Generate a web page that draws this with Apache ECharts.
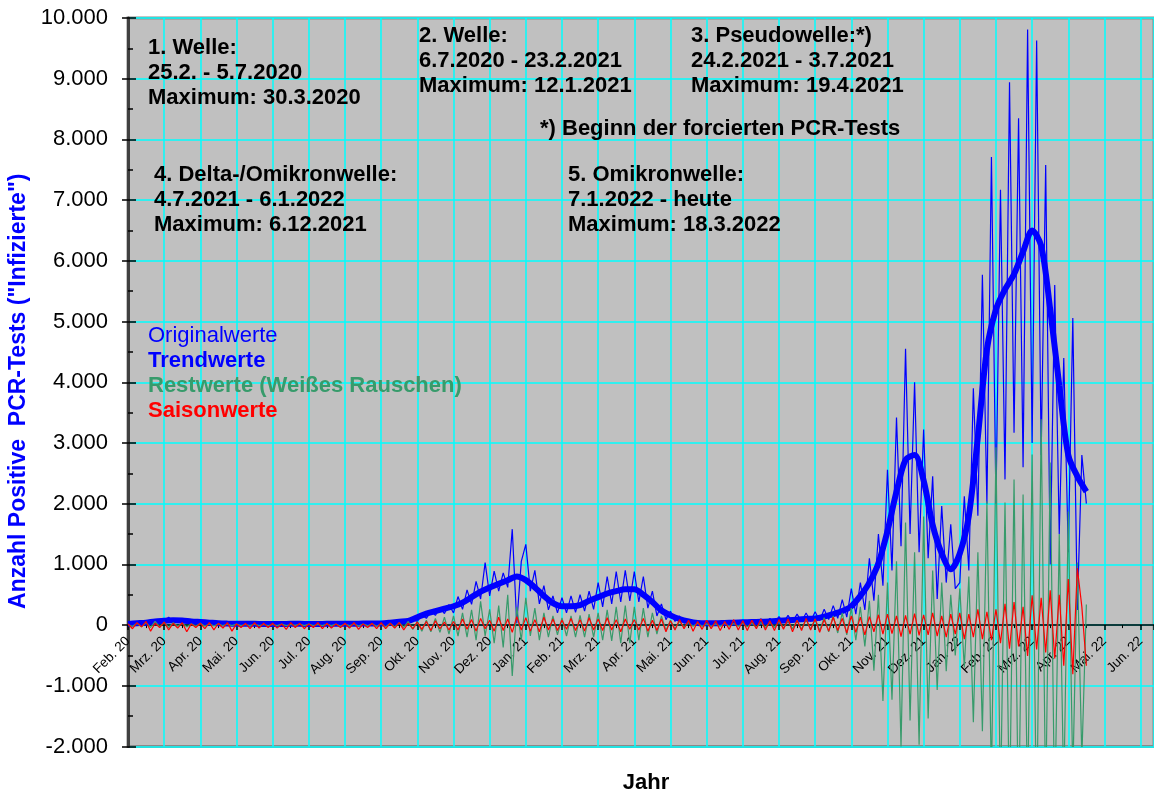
<!DOCTYPE html>
<html lang="de">
  <head>
    <meta charset="UTF-8" />
    <title>Positive PCR-Tests</title>
    <style>
      html, body { margin: 0; padding: 0; background: #fff; }
      #main { width: 1154px; height: 796px; }
    </style>
  </head>
  <body>
    <div id="main"></div>
    <script src="https://cdn.jsdelivr.net/npm/echarts@6/dist/echarts.min.js"></script>
    <script>
      // Monatsbeschriftung der x-Achse (1 Einheit = 1 Monat ab Feb. 2020)
      const monthLabels = [
        "Feb. 20", "Mrz. 20", "Apr. 20", "Mai. 20", "Jun. 20", "Jul. 20", "Aug. 20",
        "Sep. 20", "Okt. 20", "Nov. 20", "Dez. 20", "Jan. 21", "Feb. 21", "Mrz. 21",
        "Apr. 21", "Mai. 21", "Jun. 21", "Jul. 21", "Aug. 21", "Sep. 21", "Okt. 21",
        "Nov. 21", "Dez. 21", "Jan. 22", "Feb. 22", "Mrz. 22", "Apr. 22", "Mai. 22",
        "Jun. 22"
      ];

      // Trendwerte, alle 0,25 Monate
      const trendStep = 0.25;
      const trendValues = [
        20, 30, 40, 60, 70, 80, 75, 60, 50, 40, 30, 25,
        22, 20, 20, 18, 18, 18, 20, 20, 18, 18, 20, 20, 22, 22, 25, 25, 28,
        40, 55, 70, 130, 190, 230, 270, 310, 370, 460, 550, 620, 680, 740, 800,
        740, 620, 480, 360, 310, 310, 330, 400, 460, 520, 560, 590, 590, 500,
        380, 240, 160, 100, 60, 35, 30, 30, 35, 40, 45, 50, 55, 60, 70, 80,
        90, 100, 110, 140, 180, 230, 310, 480, 700, 1020, 1550, 2200, 2720, 2800,
        2380, 1650, 1180, 920, 1180, 1800, 3100, 4540, 5200, 5530, 5780, 6150,
        6500, 6250, 5200, 3950, 2800, 2450, 2200
      ];

      // Original-, Rest- und Saisonwerte, alle 0,125 Monate (8 Werte je Monat)
      const rawStep = 0.125;
      const originalValues = [
        10, 40, 20, 50, 30, 60, 40, 80,
        60, 130, 50, 110, 60, 90, 50, 80,
        30, 70, 20, 50, 20, 40, 15, 35,
        10, 30, 10, 25, 10, 30, 10, 25,
        10, 25, 10, 30, 10, 25, 15, 30,
        10, 30, 10, 25, 15, 30, 10, 30,
        10, 30, 15, 35, 10, 30, 15, 35,
        15, 40, 20, 50, 30, 60, 40, 90,
        60, 170, 110, 230, 160, 290, 190, 340,
        200, 470, 260, 580, 340, 720, 430, 1030,
        480, 890, 560, 860, 620, 1580, 30, 1050,
        1330, 560, 900, 350, 650, 250, 480, 200,
        450, 200, 480, 210, 500, 230, 560, 260,
        700, 300, 800, 350, 880, 380, 900, 400,
        880, 380, 800, 280, 560, 150, 350, 90,
        230, 60, 150, 30, 80, 20, 60, 15,
        50, 15, 45, 20, 55, 20, 60, 25,
        80, 25, 90, 30, 100, 35, 110, 40,
        140, 40, 160, 50, 180, 60, 200, 60,
        220, 70, 260, 90, 320, 110, 420, 130,
        600, 180, 700, 250, 1100, 400, 1500, 650,
        2560, 900, 3420, 1300, 4550, 1500, 4000, 1200,
        3220, 1100, 2450, 430, 1960, 700, 1660, 600,
        700, 2120, 900, 3900, 1800, 5770, 2000, 7710,
        2000, 7170, 2400, 8940, 3170, 8350, 2600, 9810,
        3000, 9630, 2800, 7580, 1000, 5600, 1500, 4400,
        1200, 5060, 250, 2800, 2000
      ];
      const residualValues = [
        10, -20, 30, -30, 40, -40, 60, -30,
        50, -40, 40, -20, 30, -30, 20, -20,
        30, -20, 20, -15, 20, -10, 15, -10,
        15, -10, 10, -10, 15, -10, 10, -10,
        10, -10, 15, -10, 10, -5, 15, -10,
        15, -10, 10, -10, 15, -10, 15, -15,
        15, -10, 20, -15, 15, -10, 20, -20,
        20, -30, 30, -30, 40, -40, 60, -70,
        60, -100, 80, -110, 110, -120, 130, -150,
        150, -180, 200, -200, 250, -250, 390, -180,
        260, -300, 320, -370, 500, -840, 300, -250,
        450, -180, 280, -250, 200, -200, 150, -160,
        120, -180, 150, -200, 160, -200, 180, -200,
        200, -250, 250, -260, 300, -300, 320, -300,
        300, -250, 280, -200, 200, -150, 150, -90,
        80, -60, 60, -30, 40, -20, 30, -20,
        20, -20, 20, -20, 25, -20, 25, -20,
        30, -30, 35, -35, 40, -40, 45, -40,
        60, -50, 70, -60, 80, -70, 90, -70,
        100, -90, 120, -110, 150, -130, 200, -160,
        280, -250, 300, -350, 400, -750, 500, -1250,
        700, -1230, 1050, -2000, 1690, -1570, 1200, -1970,
        1790, -1540, 900, -1070, 700, -760, 500, -500,
        600, -700, 800, -1600, 1200, -1750, 2040, -2600,
        2930, -3000, 2020, -3200, 2400, -3400, 2150, -3000,
        2810, -3500, 3390, -3000, 2680, -3200, 1500, -2800,
        1870, -2500, 1030, -2200, 340
      ];
      const seasonalValues = [
        20, -60, 40, -30, 60, -100, 30, -40,
        50, -80, 30, -50, 40, -110, 20, -40,
        30, -60, 40, -80, 30, -50, 40, -100,
        20, -40, 30, -60, 40, -50, 30, -40,
        30, -50, 20, -70, 40, -40, 30, -60,
        20, -40, 40, -60, 30, -50, 20, -40,
        30, -50, 40, -70, 20, -40, 30, -60,
        40, -60, 30, -50, 40, -80, 30, -60,
        50, -70, 60, -90, 70, -60, 50, -80,
        60, -80, 100, -70, 90, -100, 110, -60,
        80, -100, 130, -90, 100, -120, 140, -80,
        120, -100, 90, -110, 130, -80, 100, -90,
        80, -70, 110, -90, 90, -100, 120, -80,
        100, -90, 120, -80, 90, -110, 100, -70,
        90, -80, 110, -100, 80, -90, 100, -110,
        70, -80, 90, -60, 80, -100, 60, -70,
        80, -60, 70, -90, 60, -70, 90, -80,
        70, -90, 80, -60, 100, -80, 70, -90,
        90, -70, 100, -110, 80, -90, 110, -80,
        100, -120, 90, -100, 130, -90, 110, -130,
        150, -120, 130, -160, 140, -110, 170, -150,
        180, -140, 150, -190, 160, -150, 190, -170,
        170, -160, 200, -180, 150, -200, 180, -150,
        200, -230, 180, -200, 260, -230, 220, -250,
        260, -300, 350, -390, 380, -350, 300, -510,
        490, -400, 450, -450, 575, -550, 500, -670,
        760, -810, 940, 300, -670
      ];

      const FONT = '"Liberation Sans", Arial, sans-serif';
      const GREEN = "#379b6b";
      const Y_MIN = -2000;
      const Y_MAX = 10000;
      const GRID = { left: 128, right: 0, top: 18, bottom: 49.5 };
      // x-Achse liegt auf der Nulllinie: Abstand von der Unterkante des Plots
      const plotHeight = 796 - GRID.top - GRID.bottom;
      const zeroOffset = -plotHeight * (0 - Y_MIN) / (Y_MAX - Y_MIN);

      function toPoints(values, step) {
        return values.map((v, i) => [i * step, v]);
      }
      // 10000 -> "10.000"
      function fmtNumber(v) {
        const s = String(Math.abs(v)).replace(/\B(?=(\d{3})+(?!\d))/g, ".");
        return (v < 0 ? "-" : "") + s;
      }
      function note(x, y, text) {
        return {
          type: "text",
          x: x,
          y: y,
          z: 100,
          style: {
            text: text,
            font: "bold 22px " + FONT,
            fill: "#000",
            lineHeight: 25,
            verticalAlign: "top"
          }
        };
      }

      const myChart = echarts.init(document.getElementById("main"));
      const option = {
        animation: false,
        backgroundColor: "#fff",
        grid: Object.assign({}, GRID, {
          outerBoundsMode: "none",
          containLabel: false,
          show: true,
          backgroundColor: "#c0c0c0",
          borderColor: "#8a8a8a",
          borderWidth: 3
        }),
        legend: {
          orient: "vertical",
          left: 143,
          top: 324,
          padding: 0,
          itemGap: 1,
          itemWidth: 0,
          itemHeight: 0,
          icon: "rect",
          itemStyle: { opacity: 0 },
          lineStyle: { opacity: 0 },
          textStyle: { fontFamily: FONT, fontSize: 22, lineHeight: 24 },
          data: [
            { name: "Originalwerte", textStyle: { color: "#0000ff", fontWeight: "normal" } },
            { name: "Trendwerte", textStyle: { color: "#0000ff", fontWeight: "bold" } },
            { name: "Restwerte (Weißes Rauschen)", textStyle: { color: GREEN, fontWeight: "bold" } },
            { name: "Saisonwerte", textStyle: { color: "#ff0000", fontWeight: "bold" } }
          ]
        },
        xAxis: {
          type: "value",
          min: 0,
          max: 28.37,
          interval: 1,
          offset: zeroOffset,
          axisLine: { onZero: false, lineStyle: { color: "#000", width: 1.5 } },
          axisTick: { length: 5, lineStyle: { color: "#000", width: 1.5 } },
          minorTick: { show: true, splitNumber: 2, length: 3, lineStyle: { color: "#000" } },
          splitLine: { show: true, lineStyle: { color: "#00ffff", width: 1.5 } },
          axisLabel: {
            rotate: 45,
            margin: 14,
            showMaxLabel: false,
            color: "#000",
            fontFamily: FONT,
            fontSize: 13.5,
            formatter: (v) => monthLabels[Math.round(v)] || ""
          }
        },
        yAxis: [
          {
            type: "value",
            min: Y_MIN,
            max: Y_MAX,
            interval: 1000,
            name: 'Anzahl Positive  PCR-Tests ("Infizierte")',
            nameLocation: "middle",
            nameGap: 96,
            nameTextStyle: {
              color: "#0000ff",
              fontFamily: FONT,
              fontSize: 23,
              fontWeight: "bold",
              padding: [0, 18, 0, 0]
            },
            axisLine: { show: true, onZero: false, lineStyle: { color: "#404040", width: 3 } },
            axisTick: { show: true, length: 6, lineStyle: { color: "#000", width: 1.5 } },
            splitLine: { show: true, lineStyle: { color: "#00ffff", width: 1.5 } },
            axisLabel: {
              margin: 20,
              color: "#000",
              fontFamily: FONT,
              fontSize: 22,
              formatter: fmtNumber
            }
          },
          {
            // nur innere Teilstriche
            type: "value",
            position: "left",
            min: Y_MIN,
            max: Y_MAX,
            interval: 1000,
            axisLine: { show: false, onZero: false },
            axisLabel: { show: false },
            splitLine: { show: false },
            axisTick: { show: true, inside: true, length: 8, lineStyle: { color: "#000", width: 1.5 } },
            minorTick: { show: true, splitNumber: 2, length: 5, lineStyle: { color: "#000", width: 1.5 } }
          }
        ],
        graphic: [
          note(148, 35, "1. Welle:\n25.2. - 5.7.2020\nMaximum: 30.3.2020"),
          note(419, 23.5, "2. Welle:\n6.7.2020 - 23.2.2021\nMaximum: 12.1.2021"),
          note(691, 23.5, "3. Pseudowelle:*)\n24.2.2021 - 3.7.2021\nMaximum: 19.4.2021"),
          note(540, 116, "*) Beginn der forcierten PCR-Tests"),
          note(154, 162, "4. Delta-/Omikronwelle:\n4.7.2021 - 6.1.2022\nMaximum: 6.12.2021"),
          note(568, 162, "5. Omikronwelle:\n7.1.2022 - heute\nMaximum: 18.3.2022"),
          {
            type: "text",
            x: 646,
            y: 783,
            style: {
              text: "Jahr",
              font: "bold 22px " + FONT,
              fill: "#000",
              align: "center",
              verticalAlign: "middle"
            }
          }
        ],
        series: [
          {
            name: "Originalwerte",
            type: "line",
            symbol: "none",
            data: toPoints(originalValues, rawStep),
            lineStyle: { color: "#0000ff", width: 1.2 },
            itemStyle: { color: "#0000ff" }
          },
          {
            name: "Trendwerte",
            type: "line",
            symbol: "none",
            smooth: 0.3,
            data: toPoints(trendValues, trendStep),
            lineStyle: { color: "#0000ff", width: 6 },
            itemStyle: { color: "#0000ff" }
          },
          {
            name: "Restwerte (Weißes Rauschen)",
            type: "line",
            symbol: "none",
            data: toPoints(residualValues, rawStep),
            lineStyle: { color: GREEN, width: 1.2 },
            itemStyle: { color: GREEN }
          },
          {
            name: "Saisonwerte",
            type: "line",
            symbol: "none",
            data: toPoints(seasonalValues, rawStep),
            lineStyle: { color: "#ff0000", width: 1.2 },
            itemStyle: { color: "#ff0000" }
          }
        ]
      };

      myChart.setOption(option);
    </script>
  </body>
</html>
